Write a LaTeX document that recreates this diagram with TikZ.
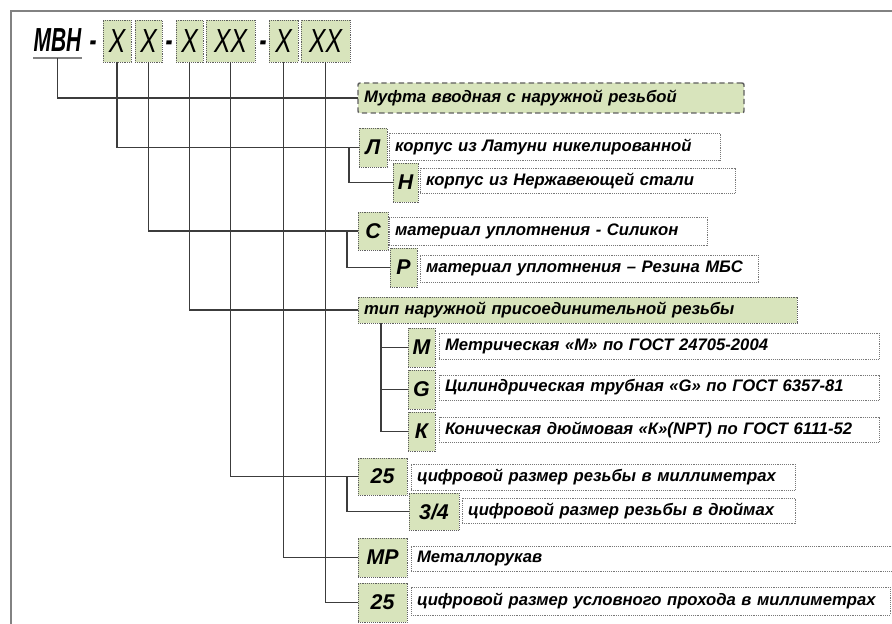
\documentclass[tikz,border=0pt]{standalone}
\usepackage{fontspec}
\setmainfont{Liberation Sans}
\newfontfamily\ttlfont[FakeStretch=0.74]{Liberation Sans}
\newfontfamily\mvnfont[FakeStretch=0.63]{Liberation Sans}
\definecolor{gfill}{RGB}{216,228,188}
\definecolor{lnc}{RGB}{60,60,60}
\definecolor{dotc}{RGB}{95,95,95}
\definecolor{tdotc}{RGB}{120,120,120}
\definecolor{framec}{RGB}{130,130,130}
\begin{document}
\begin{tikzpicture}[x=0.75pt,y=-0.75pt,
  base/.style={anchor=north west, inner sep=0pt, outer sep=0pt},
  sz/.style 2 args={minimum width=#1*0.75pt, minimum height=#2*0.75pt},
  lbox/.style={base, fill=gfill, draw=dotc, line width=0.6pt, dash pattern=on 0.7pt off 0.7pt,
    font=\bfseries\itshape\fontsize{16}{16}\selectfont},
  tbox/.style 2 args={base, fill=white, draw=tdotc, line width=0.55pt, dash pattern=on 0.7pt off 0.7pt,
    minimum width=#1*0.75pt, minimum height=#2*0.75pt, text width=(#1-12)*0.75pt, inner xsep=4.5pt,
    align=left, font=\bfseries\itshape\fontsize{12.5}{14}\selectfont,
    execute at begin node={\hbox\bgroup}, execute at end node={\egroup}},
  gbox/.style 2 args={tbox={#1}{#2}, fill=gfill, draw=dotc},
  mufbox/.style 2 args={tbox={#1}{#2}, fill=gfill, draw=dotc, line width=1.1pt, dash pattern=on 4pt off 2.5pt, rounded corners=1.5pt},
  tbx/.style={base, fill=gfill, draw=dotc, line width=0.6pt, dash pattern=on 0.7pt off 0.7pt,
    font=\ttlfont\itshape\fontsize{25}{25}\selectfont},
  ttl/.style={anchor=base, inner xsep=0pt, font=\mvnfont\bfseries\itshape\fontsize{25}{25}\selectfont},
  ln/.style={draw=lnc, line width=1.1pt},
  frm/.style={draw=framec, line width=1.4pt}
]
\useasboundingbox (0,0) rectangle (892,624);
% frame
\draw[frm] (10,11) -- (892,11);
\draw[frm] (11,11) -- (11,624);

% title
\node[ttl, inner ysep=4.5pt] (mvn) at (57.5,52) {МВН};
\draw[draw=framec, line width=1.3pt] (mvn.south west) -- (mvn.south east);
\node[ttl] (d1) at (93,52) {-};
\node[ttl] (d2) at (169,52) {-};
\node[ttl] (d3) at (263,52) {-};
\node[tbx, sz={28}{42}] (t1) at (103,20) {X};
\node[tbx, sz={27}{42}] (t2) at (135,20) {X};
\node[tbx, sz={27}{42}] (t3) at (176,20) {X};
\node[tbx, sz={49}{42}] (t4) at (206,20) {XX};
\node[tbx, sz={29}{42}] (t5) at (269,20) {X};
\node[tbx, sz={49}{42}] (t6) at (301,20) {XX};

% right-hand boxes
\node[mufbox={386}{30}] (muf) at (358,83) {Муфта вводная с наружной резьбой};

\node[lbox, sz={28}{39}] (L) at (359,128) {Л};
\node[tbox={331}{27}] (Lt) at (389,133) {корпус из Латуни никелированной};
\node[lbox, sz={25}{39}] (N) at (393,163) {Н};
\node[tbox={315}{25}] (Nt) at (420,168) {корпус из Нержавеющей стали};

\node[lbox, sz={30}{38}] (C) at (358,212) {С};
\node[tbox={318}{28}] (Ct) at (389,217) {материал уплотнения - Силикон};
\node[lbox, sz={27}{39}] (P) at (390,248) {Р};
\node[tbox={338}{27}] (Pt) at (420,255) {материал уплотнения – Резина МБС};

\node[gbox={439}{26}] (tip) at (358,297) {тип наружной присоединительной резьбы};
\node[lbox, sz={27}{39}] (M) at (408,328) {М};
\node[tbox={440}{26}] (Mt) at (439,333) {Метрическая «М» по ГОСТ 24705-2004};
\node[lbox, sz={27}{39}] (G) at (408,370) {G};
\node[tbox={440}{25}] (Gt) at (439,375) {Цилиндрическая трубная «G» по ГОСТ 6357-81};
\node[lbox, sz={27}{39}] (K) at (408,412) {К};
\node[tbox={440}{25}] (Kt) at (439,417) {Коническая дюймовая «К»(NPT) по ГОСТ 6111-52};

\node[lbox, sz={49}{37}] (s25) at (358,458) {25};
\node[tbox={384}{26}] (s25t) at (411,464) {цифровой размер резьбы в миллиметрах};
\node[lbox, sz={50}{37}] (s34) at (409,493) {3/4};
\node[tbox={333}{25}] (s34t) at (462,498) {цифровой размер резьбы в дюймах};

\node[lbox, sz={49}{39}] (MR) at (358,538) {МР};
\node[tbox={489}{25}] (MRt) at (411,546) {Металлорукав};
\node[lbox, sz={49}{39}] (d25) at (358,583) {25};
\node[tbox={479}{28}] (d25t) at (411,587) {цифровой размер условного прохода в миллиметрах};

% connectors
\draw[ln] (mvn.south) |- (muf.west);
\draw[ln] (t1.south) |- (L.west);
\draw[ln] (t2.south) |- (C.west);
\draw[ln] (t3.south) |- (tip.west);
\draw[ln] (t4.south) |- (s25.west);
\draw[ln] (t5.south) |- (MR.west);
\draw[ln] (t6.south) |- (d25.west);

\coordinate (jL) at (349,147.5);
\coordinate (jC) at (347,231);
\coordinate (jT) at (381,323);
\coordinate (j25) at (347,476.5);
\draw[ln] (jL) |- (N.west);
\draw[ln] (jC) |- (P.west);
\draw[ln] (jT) |- (M.west);
\draw[ln] (jT) |- (G.west);
\draw[ln] (jT) |- (K.west);
\draw[ln] (j25) |- (s34.west);
\end{tikzpicture}
\end{document}
